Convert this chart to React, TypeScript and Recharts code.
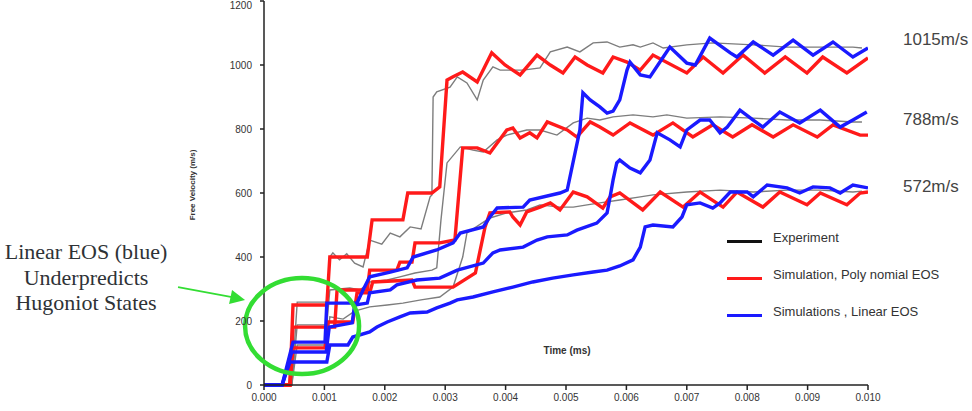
import React from 'react';
import { LineChart, Line, XAxis, YAxis, ReferenceDot } from 'recharts';

// time in units of 0.001 (axis shows 0.000 ... 0.010), velocity in m/s
const expHigh: [number, number][] = [
  [0, 0], [0.46, 0], [0.55, 259], [1.04, 259], [1.09, 400], [1.14, 413], [1.25, 391], [1.37, 410],
  [1.5, 381], [1.64, 369], [1.75, 453], [1.95, 440], [2.09, 475], [2.25, 463], [2.42, 494],
  [2.6, 488], [2.75, 588], [2.78, 594], [2.8, 900], [2.86, 916], [3.08, 931], [3.2, 963],
  [3.36, 944], [3.53, 891], [3.63, 953], [3.79, 994], [3.91, 984], [4.07, 984], [4.29, 984],
  [4.57, 991], [4.74, 1041], [5.02, 1056], [5.23, 1041], [5.45, 1069], [5.68, 1072], [5.89, 1056],
  [6.11, 1063], [6.23, 1056], [6.44, 1069], [6.61, 1053], [7.0, 1063], [7.43, 1069], [8.1, 1063],
  [8.66, 1056], [9.21, 1056], [9.75, 1056], [9.9, 1053],
];
const expMid: [number, number][] = [
  [0, 0], [0.46, 0], [0.55, 188], [1.04, 188], [1.09, 297], [1.42, 303], [1.59, 297], [1.75, 322],
  [2.04, 328], [2.25, 338], [2.5, 350], [2.78, 359], [2.86, 366], [2.93, 516], [3.03, 694],
  [3.25, 744], [3.46, 734], [3.63, 728], [3.86, 766], [4.02, 781], [4.35, 797], [4.57, 797],
  [4.85, 781], [5.12, 819], [5.35, 834], [5.56, 828], [5.78, 838], [6.11, 844], [6.44, 838],
  [6.67, 844], [7.0, 834], [7.55, 838], [8.1, 834], [8.66, 828], [9.21, 828], [9.75, 822], [9.9, 822],
];
const expLow: [number, number][] = [
  [0, 0], [0.46, 0], [0.55, 125], [1.04, 125], [1.09, 213], [1.31, 206], [1.5, 231], [1.75, 244],
  [2.04, 250], [2.3, 256], [2.6, 266], [2.91, 275], [3.13, 306], [3.29, 400], [3.36, 475],
  [3.74, 522], [4.02, 538], [4.35, 547], [4.57, 563], [4.9, 556], [5.12, 556], [5.35, 563],
  [5.56, 569], [5.89, 578], [6.23, 588], [6.44, 594], [7.0, 603], [7.55, 609], [8.1, 603],
  [8.66, 609], [9.21, 609], [9.75, 603], [9.9, 606],
];

const polyHigh: [number, number][] = [
  [0, 0], [0.43, 0], [0.48, 250], [1.04, 250], [1.09, 400], [1.71, 400], [1.79, 516], [2.3, 516],
  [2.38, 600], [2.78, 600], [2.91, 619], [3.03, 953], [3.13, 963], [3.29, 978], [3.53, 947],
  [3.77, 1038], [3.99, 1000], [4.24, 969], [4.52, 1031], [4.74, 1000], [4.95, 975], [5.15, 1025],
  [5.35, 1000], [5.61, 975], [5.78, 1025], [6.01, 1009], [6.23, 984], [6.44, 1031], [7.0, 975],
  [7.27, 1025], [7.6, 975], [7.93, 1031], [8.29, 975], [8.63, 1025], [8.99, 975], [9.25, 1025],
  [9.65, 975], [10.0, 1022],
];
const polyMid: [number, number][] = [
  [0, 0], [0.43, 0], [0.48, 181], [1.17, 181], [1.21, 297], [1.71, 297], [1.75, 359], [2.2, 359],
  [2.25, 384], [2.45, 384], [2.5, 444], [2.91, 444], [3.16, 453], [3.29, 741], [3.53, 741],
  [3.74, 725], [4.02, 797], [4.12, 803], [4.24, 772], [4.4, 788], [4.52, 772], [4.69, 822],
  [5.02, 797], [5.18, 775], [5.4, 822], [5.56, 806], [5.78, 781], [6.06, 819], [6.44, 781],
  [6.77, 819], [7.1, 775], [7.43, 813], [7.76, 775], [8.08, 813], [8.43, 775], [8.76, 813],
  [9.16, 775], [9.42, 813], [9.87, 781], [10.0, 781],
];
const polyLow: [number, number][] = [
  [0, 0], [0.43, 0], [0.48, 116], [1.01, 116], [1.06, 197], [1.47, 197], [1.54, 288], [1.75, 288],
  [1.8, 322], [2.45, 328], [2.5, 306], [3.13, 306], [3.5, 350], [3.66, 494], [3.74, 538], [4.07, 541],
  [4.12, 525], [4.24, 500], [4.35, 541], [4.57, 556], [4.74, 569], [4.9, 547], [5.12, 603],
  [5.35, 588], [5.61, 553], [5.73, 588], [5.89, 600], [6.27, 547], [6.56, 603], [6.94, 556],
  [7.22, 603], [7.6, 556], [7.83, 603], [8.26, 556], [8.54, 603], [8.99, 563], [9.21, 600],
  [9.65, 563], [9.87, 600], [10.0, 603],
];

const linHigh: [number, number][] = [
  [0, 0], [0.3, 0], [0.48, 134], [1.01, 134], [1.04, 256], [1.54, 256], [1.64, 297], [1.75, 338],
  [2.09, 353], [2.37, 366], [2.47, 400], [2.86, 422], [3.13, 444], [3.25, 475], [3.63, 494],
  [3.74, 525], [3.86, 553], [4.29, 556], [4.4, 578], [4.9, 600], [5.02, 609], [5.23, 797],
  [5.28, 913], [5.4, 891], [5.56, 869], [5.68, 850], [5.78, 856], [5.89, 891], [6.01, 984],
  [6.06, 1009], [6.23, 969], [6.39, 963], [6.61, 1025], [6.72, 1056], [7.0, 1006], [7.14, 1000],
  [7.38, 1084], [7.72, 1038], [7.83, 1025], [8.1, 1072], [8.43, 1031], [8.76, 1078], [9.09, 1031],
  [9.42, 1072], [9.75, 1025], [10.0, 1053],
];
const linMid: [number, number][] = [
  [0, 0], [0.3, 0], [0.46, 103], [1.03, 103], [1.08, 181], [1.46, 194], [1.5, 250], [1.71, 256],
  [1.75, 288], [2.09, 297], [2.2, 313], [2.53, 328], [2.91, 334], [3.2, 359], [3.63, 381],
  [3.79, 413], [3.91, 422], [4.29, 431], [4.52, 453], [4.69, 463], [5.02, 469], [5.18, 484],
  [5.51, 506], [5.68, 538], [5.73, 588], [5.78, 641], [5.84, 694], [5.89, 703], [6.06, 678],
  [6.23, 663], [6.39, 703], [6.51, 788], [6.72, 766], [6.89, 744], [7.0, 797], [7.22, 828],
  [7.38, 828], [7.55, 788], [7.67, 806], [7.88, 859], [8.1, 828], [8.26, 806], [8.54, 853],
  [8.87, 819], [9.21, 859], [9.54, 806], [9.75, 828], [9.98, 853],
];
const linLow: [number, number][] = [
  [0, 0], [0.3, 0], [0.43, 72], [1.04, 72], [1.09, 125], [1.39, 125], [1.47, 150], [1.75, 166],
  [1.87, 181], [2.04, 197], [2.25, 213], [2.42, 225], [2.7, 228], [2.86, 241], [3.08, 256],
  [3.2, 266], [3.46, 275], [3.79, 291], [4.12, 306], [4.45, 322], [4.78, 334], [5.12, 344],
  [5.45, 353], [5.68, 359], [5.89, 372], [6.11, 391], [6.23, 431], [6.31, 494], [6.44, 500],
  [6.77, 494], [6.92, 525], [7.0, 563], [7.22, 569], [7.43, 553], [7.55, 569], [7.72, 603],
  [8.0, 603], [8.1, 588], [8.33, 625], [8.66, 616], [8.87, 600], [9.09, 619], [9.37, 616],
  [9.54, 600], [9.75, 625], [10.0, 616],
];

const xTicks = [0, 1, 2, 3, 4, 5, 6, 7, 8, 9, 10];
const yTicks = [0, 200, 400, 600, 800, 1000, 1200];
const endLabels = ['1015m/s', '788m/s', '572m/s'];
const legendItems = ['Experiment', 'Simulation, Poly nomial EOS', 'Simulations , Linear EOS'];

const GRAY = '#7d7d7d';
const RED = '#ff1a1a';
const BLUE = '#1a1aff';
const GREEN = '#33dd33';

const series = [
  { name: 'expHigh', data: expHigh, color: GRAY, w: 1.4 },
  { name: 'expMid', data: expMid, color: GRAY, w: 1.4 },
  { name: 'expLow', data: expLow, color: GRAY, w: 1.4 },
  { name: 'polyHigh', data: polyHigh, color: RED, w: 3.4 },
  { name: 'polyMid', data: polyMid, color: RED, w: 3.4 },
  { name: 'polyLow', data: polyLow, color: RED, w: 3.4 },
  { name: 'linHigh', data: linHigh, color: BLUE, w: 3.4 },
  { name: 'linMid', data: linMid, color: BLUE, w: 3.4 },
  { name: 'linLow', data: linLow, color: BLUE, w: 3.4 },
];

const tickStyle = { fontSize: 10, fill: '#333', fontFamily: 'Liberation Sans, Arial, sans-serif' };

// green ellipse round the first shock states, with the arrow from the note
const Highlight = (props: any) => {
  const { cx, cy } = props;
  return (
    <g>
      <ellipse cx={cx} cy={cy} rx={57} ry={48} fill="none" stroke={GREEN} strokeWidth={4.5} />
      <line x1={cx - 124} y1={cy - 39} x2={cx - 70} y2={cy - 29} stroke={GREEN} strokeWidth={1.6} />
      <polygon
        points={`${cx - 57},${cy - 26} ${cx - 73},${cy - 22} ${cx - 70},${cy - 36}`}
        fill={GREEN}
      />
    </g>
  );
};

export default function App() {
  const font = 'Liberation Sans, Arial, sans-serif';
  return (
    <div style={{ position: 'absolute', left: 0, top: 0, width: 972, height: 411, background: '#fff' }}>
      <LineChart width={972} height={411} margin={{ top: 1, right: 104, bottom: 0, left: 224 }}>
        <XAxis
          dataKey="t"
          type="number"
          domain={[0, 10]}
          ticks={xTicks}
          tickFormatter={(v: number) => (v / 1000).toFixed(3)}
          tick={tickStyle}
          tickSize={5}
          tickMargin={4}
          height={26}
          stroke="#222"
          strokeWidth={1.5}
          allowDataOverflow
        />
        <YAxis
          type="number"
          domain={[0, 1200]}
          ticks={yTicks}
          tick={tickStyle}
          tickSize={4}
          tickMargin={8}
          width={40}
          stroke="#222"
          strokeWidth={1.5}
        />
        {series.map((s) => (
          <Line
            key={s.name}
            data={s.data.map(([t, v]) => ({ t, v }))}
            dataKey="v"
            type="linear"
            stroke={s.color}
            strokeWidth={s.w}
            dot={false}
            activeDot={false}
            isAnimationActive={false}
          />
        ))}
        <ReferenceDot x={0.63} y={184} r={0} shape={<Highlight />} />
      </LineChart>

      {/* y axis title */}
      <div
        style={{
          position: 'absolute', left: 192, top: 185, transform: 'translate(-50%, -50%) rotate(-90deg)',
          fontFamily: font, fontSize: 8, fontWeight: 'bold', color: '#333', whiteSpace: 'nowrap',
        }}
      >
        Free Velocity (m/s)
      </div>

      {/* x axis title, inside the plot */}
      <div
        style={{
          position: 'absolute', left: 567, top: 350, transform: 'translate(-50%, -50%)',
          fontFamily: font, fontSize: 10, fontWeight: 'bold', color: '#333', whiteSpace: 'nowrap',
        }}
      >
        Time (ms)
      </div>

      {/* end velocities */}
      {endLabels.map((txt, i) => (
        <div
          key={txt}
          style={{
            position: 'absolute', left: 903, top: [40, 120, 187][i], transform: 'translateY(-50%)',
            fontFamily: font, fontSize: 17, color: '#444', whiteSpace: 'nowrap',
          }}
        >
          {txt}
        </div>
      ))}

      {/* legend */}
      {legendItems.map((txt, i) => (
        <div key={txt} style={{ position: 'absolute', left: 727, top: [241, 278, 315][i], height: 0 }}>
          <div
            style={{
              position: 'absolute', left: 0, top: -1.5, width: 35, height: 3,
              background: ['#111', RED, BLUE][i],
            }}
          />
          <div
            style={{
              position: 'absolute', left: 46, top: -11, fontFamily: font, fontSize: 13,
              color: '#333', whiteSpace: 'nowrap', lineHeight: '16px',
            }}
          >
            {txt}
          </div>
        </div>
      ))}

      {/* note on the left */}
      <div
        style={{
          position: 'absolute', left: 0, top: 239, width: 172, textAlign: 'center',
          fontFamily: 'Liberation Serif, Times New Roman, serif', fontSize: 22, lineHeight: '25.5px',
          color: '#2e3236',
        }}
      >
        Linear EOS (blue)
        <br />
        Underpredicts
        <br />
        Hugoniot States
      </div>
    </div>
  );
}
